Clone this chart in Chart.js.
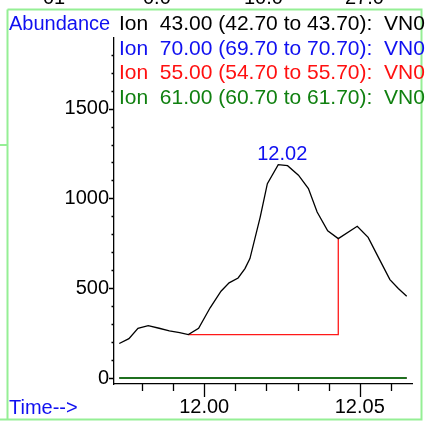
<!DOCTYPE html>
<html>
<head>
<meta charset="utf-8">
<script src="https://cdn.jsdelivr.net/npm/chart.js@4/dist/chart.umd.min.js"></script>
<style>
  body { margin: 0; background: #fff; }
  canvas { display: block; }
</style>
</head>
<body>
<canvas id="chrom" width="425" height="423"></canvas>
<script>
// retention time (min) and abundance of the ion 43 trace
const times = [11.9727, 11.9758, 11.9787, 11.9820, 11.9855, 11.9888, 11.9921, 11.9949, 11.9982, 12.0019,
               12.0054, 12.0080, 12.0109, 12.0131, 12.0147, 12.0180, 12.0203, 12.0238, 12.0268, 12.0303,
               12.0335, 12.0363, 12.0397, 12.0431, 12.0492, 12.0527, 12.0565, 12.0597, 12.0624, 12.0651];
const ion43 = [192, 219, 277, 291, 277, 262, 253, 242, 277, 391,
               483, 530, 557, 609, 665, 896, 1082, 1188, 1182, 1129,
               1055, 924, 820, 776, 845, 783, 655, 548, 498, 455];

// the other ions stay flat on zero
const flatTimes = [11.9727, 12.0651];
const ion70 = [0, 0];
const ion55 = [0, 0];
const ion61 = [0, 0];

// integration baseline and drop line
const baseTimes = [11.9949, 12.0431, 12.0431];
const baseValues = [242, 242, 776];

const ionLabels = [
  'Ion  43.00 (42.70 to 43.70):  VN0',
  'Ion  70.00 (69.70 to 70.70):  VN0',
  'Ion  55.00 (54.70 to 55.70):  VN0',
  'Ion  61.00 (60.70 to 61.70):  VN0'
];
const ionColors = ['#000000', '#1010f0', '#ff1010', '#108010'];
const topStrip = ['01', '0.0', '10.0', '27.0'];

const FAMILY = '"Liberation Sans", Arial, sans-serif';
const FONT = '20px ' + FAMILY;
const LEGEND_FONT = '21px ' + FAMILY;

function pts(xs, ys) {
  return xs.map((x, i) => ({ x: x, y: ys[i] }));
}

const decor = {
  id: 'decor',
  beforeDraw(chart) {
    const ctx = chart.ctx;
    ctx.save();
    ctx.fillStyle = '#fff';
    ctx.fillRect(0, 0, chart.width, chart.height);
    ctx.strokeStyle = '#95ef95';
    ctx.lineWidth = 2;
    ctx.beginPath();
    ctx.moveTo(7.5, 9.5); ctx.lineTo(421.5, 9.5); ctx.lineTo(421.5, 419.5); ctx.lineTo(0, 419.5);
    ctx.moveTo(7.5, 9.5); ctx.lineTo(7.5, 419.5);
    ctx.moveTo(0, 145); ctx.lineTo(7, 145);
    ctx.stroke();
    // cut-off text above the frame
    ctx.font = FONT;
    ctx.fillStyle = '#000';
    ctx.textBaseline = 'alphabetic';
    [43, 143, 244, 345].forEach((x, i) => ctx.fillText(topStrip[i], x, 4));
    ctx.restore();
  },
  afterDraw(chart) {
    const ctx = chart.ctx;
    const area = chart.chartArea;
    const xs = chart.scales.x, ys = chart.scales.y;
    ctx.save();
    ctx.strokeStyle = '#000';
    ctx.lineWidth = 1.3;
    ctx.beginPath();
    xs.ticks.forEach(t => {
      const px = Math.round(xs.getPixelForValue(t.value)) + 0.5;
      const major = Math.round(t.value * 100) % 5 === 0;
      ctx.moveTo(px, area.bottom);
      ctx.lineTo(px, area.bottom + (major ? 13 : 7));
    });
    ys.ticks.forEach(t => {
      const py = Math.round(ys.getPixelForValue(t.value)) + 0.5;
      const major = t.value % 500 === 0;
      ctx.moveTo(area.left, py);
      ctx.lineTo(area.left - (major ? 5 : 2.5), py);
    });
    ctx.stroke();

    ctx.font = FONT;
    ctx.textBaseline = 'alphabetic';
    ctx.textAlign = 'left';
    ctx.fillStyle = '#1010f0';
    ctx.fillText('Abundance', 9, 30);
    ctx.fillText('Time-->', 9, 413.5);
    ctx.font = LEGEND_FONT;
    ionLabels.forEach((txt, i) => {
      ctx.fillStyle = ionColors[i];
      ctx.fillText(txt, 119, 30 + i * 24.6);
    });

    // retention time over the apex
    let top = 0;
    ion43.forEach((v, i) => { if (v > ion43[top]) top = i; });
    const ax = xs.getPixelForValue(times[top]);
    const ay = ys.getPixelForValue(ion43[top]);
    ctx.font = FONT;
    ctx.fillStyle = '#1010f0';
    ctx.textAlign = 'center';
    ctx.fillText(times[top].toFixed(2), ax + 4, ay - 5);
    ctx.restore();
  }
};

new Chart(document.getElementById('chrom'), {
  type: 'line',
  data: {
    // lower index is painted on top
    datasets: [
      { data: pts(times, ion43), borderColor: '#000', borderWidth: 1.3 },
      { data: pts(flatTimes, ion61), borderColor: '#1f701f', borderWidth: 2 },
      { data: pts(baseTimes, baseValues), borderColor: '#ff1818', borderWidth: 1.3 },
      { data: pts(flatTimes, ion55), borderColor: ionColors[2], borderWidth: 1 },
      { data: pts(flatTimes, ion70), borderColor: ionColors[1], borderWidth: 1 }
    ]
  },
  options: {
    responsive: false,
    animation: false,
    devicePixelRatio: 1,
    layout: { padding: { left: 0, top: 38, right: 13, bottom: 0 } },
    elements: { point: { radius: 0 }, line: { tension: 0 } },
    plugins: { legend: { display: false }, tooltip: { enabled: false } },
    scales: {
      x: {
        type: 'linear',
        min: 11.971,
        max: 12.0668,
        afterFit: s => { s.height = 39; },
        grid: { display: false, drawTicks: false },
        border: { display: true, color: '#000', width: 1.3 },
        ticks: {
          stepSize: 0.01,
          includeBounds: false,
          autoSkip: false,
          maxRotation: 0,
          padding: 11.5,
          color: '#000',
          font: { family: FAMILY, size: 20 },
          callback: v => (Math.round(v * 100) % 5 === 0 ? v.toFixed(2) : '')
        }
      },
      y: {
        type: 'linear',
        min: -33.4,
        max: 1893.1,
        afterFit: s => { s.width = 114; },
        grid: { display: false, drawTicks: false },
        border: { display: true, color: '#000', width: 1.3 },
        ticks: {
          stepSize: 100,
          includeBounds: false,
          autoSkip: false,
          padding: 5,
          color: '#000',
          font: { family: FAMILY, size: 20 },
          callback: v => (v % 500 === 0 ? String(v) : '')
        }
      }
    }
  },
  plugins: [decor]
});
</script>
</body>
</html>
